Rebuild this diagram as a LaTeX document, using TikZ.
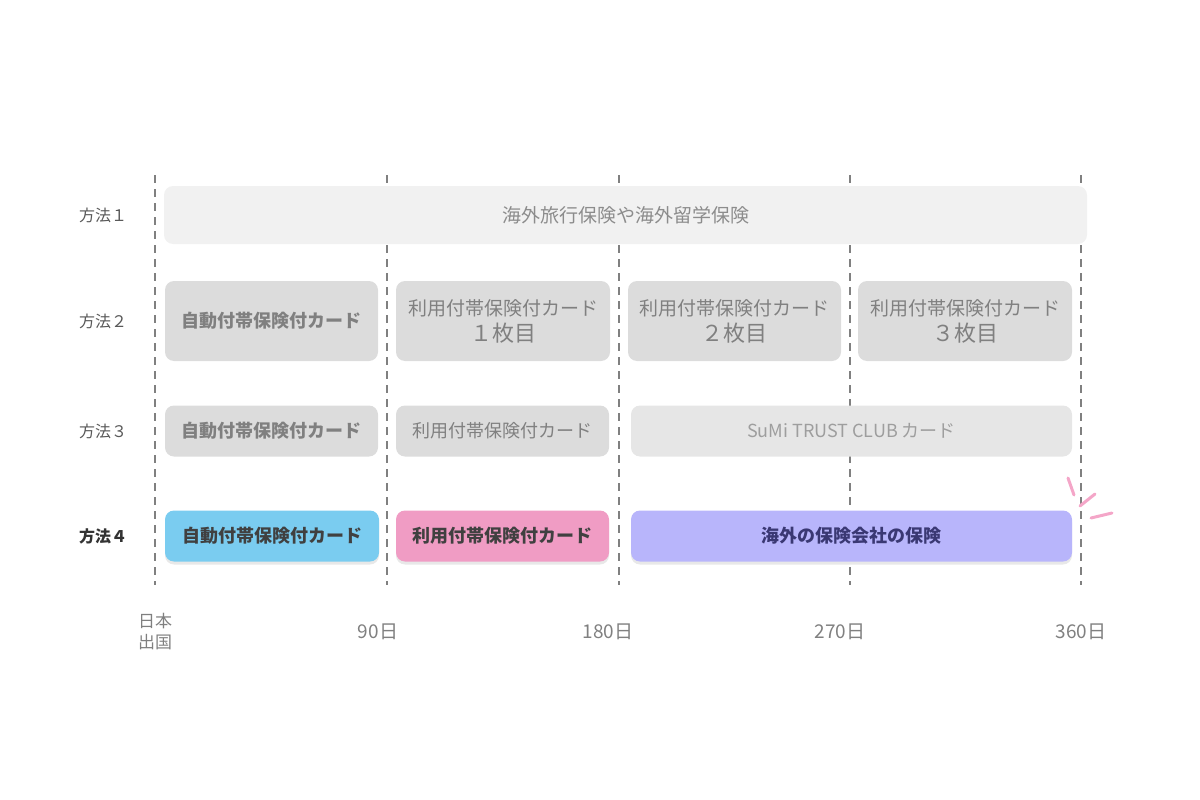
\documentclass[tikz,border=0pt]{standalone}
\usepackage{fontspec}
\setmainfont{Noto Sans CJK JP}
\usetikzlibrary{shadows}
\definecolor{bandA}{HTML}{F1F1F1}
\definecolor{bandB}{HTML}{DCDCDC}
\definecolor{bandC}{HTML}{E6E6E6}
\definecolor{cardauto}{HTML}{7ACCF0}
\definecolor{carduse}{HTML}{F09CC4}
\definecolor{insco}{HTML}{B8B5FB}
\definecolor{spark}{HTML}{F4A6C8}
\tikzset{
  band/.style={rounded corners=9pt, inner sep=0pt, align=center, font=\fontsize{19}{26}\selectfont},
  rowlabel/.style={font=\fontsize{16}{18}\selectfont, text=black!65},
  daylabel/.style={font=\fontsize{19}{22}\selectfont, text=black!50, align=center},
  guide/.style={black!50, dashed, line width=1.2pt, dash pattern=on 8pt off 6pt},
  lifted/.style={drop shadow={opacity=0.18, shadow xshift=0pt, shadow yshift=-3pt}}
}
\begin{document}
\begin{tikzpicture}[x=1pt, y=-1pt]
\useasboundingbox (0,0) rectangle (1200,800);
% guides
\foreach \gx in {155,387,619,850,1081}
  \draw[guide] (\gx,175) -- (\gx,585);
% row labels
\node[rowlabel] (m1) at (103,215) {方法１};
\node[rowlabel] (m2) at (103,321) {方法２};
\node[rowlabel] (m3) at (103,431) {方法３};
\node[rowlabel, text=black!80, font=\fontsize{16}{18}\selectfont\bfseries] (m4) at (103,536) {方法４};
% method 1
\node[band, fill=bandA, text=black!45, minimum width=923pt, minimum height=58pt] (a1) at (625.5,215) {海外旅行保険や海外留学保険};
% method 2
\node[band, fill=bandB, text=black!50, minimum width=213pt, minimum height=80pt, font=\fontsize{18}{24}\selectfont\bfseries] (b1) at (271.5,321) {自動付帯保険付カード};
\node[band, fill=bandB, text=black!50, minimum width=214pt, minimum height=80pt] (b2) at (503,321) {利用付帯保険付カード\\[0pt]{\fontsize{22}{26}\selectfont １枚目}};
\node[band, fill=bandB, text=black!50, minimum width=213pt, minimum height=80pt] (b3) at (734.5,321) {利用付帯保険付カード\\[0pt]{\fontsize{22}{26}\selectfont ２枚目}};
\node[band, fill=bandB, text=black!50, minimum width=214pt, minimum height=80pt] (b4) at (965,321) {利用付帯保険付カード\\[0pt]{\fontsize{22}{26}\selectfont ３枚目}};
% method 3
\node[band, fill=bandB, text=black!50, minimum width=213pt, minimum height=51pt, font=\fontsize{18}{22}\selectfont\bfseries] (c1) at (271.5,431) {自動付帯保険付カード};
\node[band, fill=bandB, text=black!50, minimum width=213pt, minimum height=51pt, font=\fontsize{18}{22}\selectfont] (c2) at (502.5,431) {利用付帯保険付カード};
\node[band, fill=bandC, text=black!38, minimum width=441pt, minimum height=51pt, font=\fontsize{18}{22}\selectfont] (c3) at (851.5,431) {SuMi TRUST CLUB カード};
% method 4
\node[band, lifted, fill=cardauto, text=black!75, minimum width=214pt, minimum height=51pt, font=\fontsize{18}{22}\selectfont\bfseries] (d1) at (272,536) {自動付帯保険付カード};
\node[band, lifted, fill=carduse, text=black!75, minimum width=213pt, minimum height=51pt, font=\fontsize{18}{22}\selectfont\bfseries] (d2) at (502.5,536) {利用付帯保険付カード};
\node[band, lifted, fill=insco, text={rgb,255:red,58;green,56;blue,115}, minimum width=441pt, minimum height=51pt, font=\fontsize{18}{22}\selectfont\bfseries] (d3) at (851.5,536) {海外の保険会社の保険};
% sparkle
\draw[spark, line width=3pt, line cap=round] (1068,478) -- (1074,495);
\draw[spark, line width=3pt, line cap=round] (1080,506) -- (1095,494);
\draw[spark, line width=3pt, line cap=round] (1091,518) -- (1112,513);
% day axis
\node[daylabel, font=\fontsize{17}{21}\selectfont] (t0) at (155,632) {日本\\出国};
\node[daylabel] (t1) at (378,632) {90日};
\node[daylabel] (t2) at (608,632) {180日};
\node[daylabel] (t3) at (840,632) {270日};
\node[daylabel] (t4) at (1081,632) {360日};
\end{tikzpicture}
\end{document}
